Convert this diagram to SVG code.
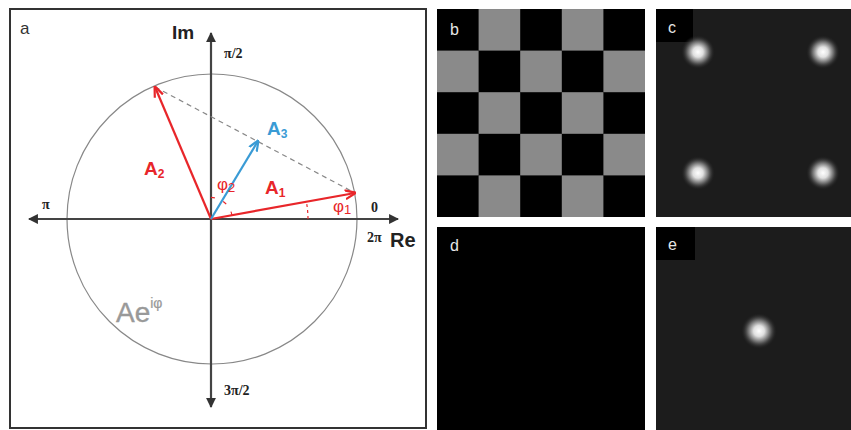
<svg xmlns="http://www.w3.org/2000/svg" width="851" height="430" viewBox="0 0 851 430">
<defs>
<style>
.ax{stroke:#444;stroke-width:2.2;fill:none}
.lbl{font-family:"Liberation Sans",Arial,sans-serif}
.ser{font-family:"Liberation Serif","Times New Roman",serif;font-weight:bold;font-size:14px;fill:#222}
.red{fill:#e8262a}
.plab{font-family:"Liberation Sans",Arial,sans-serif;font-size:16px;fill:#e6e6e6}
</style>
<marker id="ah" viewBox="0 0 10 10" refX="9" refY="5" markerWidth="4.5" markerHeight="4.5" orient="auto-start-reverse">
<path d="M0,0 L10,5 L0,10 z" fill="#333"/>
</marker>
<marker id="ar" viewBox="0 0 10 10" refX="9" refY="5" markerWidth="5" markerHeight="5" orient="auto">
<path d="M0,1 L10,5 L0,9" fill="none" stroke="#e8262a" stroke-width="2"/>
</marker>
<marker id="ab" viewBox="0 0 10 10" refX="9" refY="5" markerWidth="5" markerHeight="5" orient="auto">
<path d="M0,1 L10,5 L0,9" fill="none" stroke="#3a9bd5" stroke-width="2"/>
</marker>
<radialGradient id="spot">
<stop offset="0" stop-color="#ffffff"/>
<stop offset="0.3" stop-color="#e0e0e0"/>
<stop offset="0.65" stop-color="#606060"/>
<stop offset="1" stop-color="#1c1c1c" stop-opacity="0"/>
</radialGradient>
</defs>
<rect width="851" height="430" fill="#fff"/>

<g id="panel-a">
<rect x="10" y="9" width="416" height="419" fill="#fff" stroke="#333" stroke-width="2"/>
<text class="lbl" x="20" y="34" font-size="17" fill="#333">a</text>
<circle cx="212" cy="219" r="145" fill="none" stroke="#888" stroke-width="1.2"/>
<line class="ax" x1="29" y1="219" x2="398" y2="219" marker-start="url(#ah)" marker-end="url(#ah)"/>
<line class="ax" x1="211" y1="407" x2="211" y2="33" marker-start="url(#ah)" marker-end="url(#ah)"/>
<text class="lbl" x="172" y="39" font-size="19" font-weight="bold" fill="#222">Im</text>
<text class="ser" x="224" y="58">π/2</text>
<text class="ser" x="42" y="209">π</text>
<text class="ser" x="371" y="212">0</text>
<text class="ser" x="367" y="242">2π</text>
<text class="lbl" x="390" y="247" font-size="20" font-weight="bold" fill="#222">Re</text>
<text class="ser" x="224" y="395">3π/2</text>
<text class="lbl" x="116" y="322" font-size="28" fill="#999" stroke="#999" stroke-width="0.4">Ae<tspan dy="-14" font-size="14" stroke-width="0.2">iφ</tspan></text>
</g>

<g id="connectors">
<line x1="155" y1="87" x2="355" y2="193" stroke="#888" stroke-width="1.2" stroke-dasharray="5 4"/>
<path d="M308,219 A97,97 0 0 0 306.6,203" fill="none" stroke="#e8262a" stroke-width="1.2" stroke-dasharray="3 3"/>
<path d="M232,215.5 A22,22 0 0 0 202.4,198.8" fill="none" stroke="#e8262a" stroke-width="1.2" stroke-dasharray="4 9"/>
<line x1="211" y1="219" x2="355" y2="193" stroke="#e8262a" stroke-width="2.2" marker-end="url(#ar)"/>
<line x1="211" y1="219" x2="155" y2="87" stroke="#e8262a" stroke-width="2.2" marker-end="url(#ar)"/>
<line x1="211" y1="219" x2="258" y2="141" stroke="#3a9bd5" stroke-width="2.2" marker-end="url(#ab)"/>
</g>

<g id="labels-a">
<text class="lbl red" x="144" y="175" font-size="19" font-weight="bold">A<tspan font-size="12" dy="3">2</tspan></text>
<text class="lbl red" x="265" y="194" font-size="19" font-weight="bold">A<tspan font-size="12" dy="3">1</tspan></text>
<text class="lbl" x="267" y="135" font-size="19" font-weight="bold" fill="#3a9bd5">A<tspan font-size="12" dy="3">3</tspan></text>
<text class="lbl red" x="217" y="190" font-size="17">φ<tspan font-size="13" dy="2">2</tspan></text>
<text class="lbl red" x="333" y="212" font-size="17">φ<tspan font-size="13" dy="2">1</tspan></text>
</g>

<g id="panel-b">
<rect x="437" y="9" width="208" height="208" fill="#000"/>
<g fill="#8a8a8a">
<rect x="478.6" y="9" width="41.6" height="41.6"/><rect x="561.8" y="9" width="41.6" height="41.6"/>
<rect x="437" y="50.6" width="41.6" height="41.6"/><rect x="520.2" y="50.6" width="41.6" height="41.6"/><rect x="603.4" y="50.6" width="41.6" height="41.6"/>
<rect x="478.6" y="92.2" width="41.6" height="41.6"/><rect x="561.8" y="92.2" width="41.6" height="41.6"/>
<rect x="437" y="133.8" width="41.6" height="41.6"/><rect x="520.2" y="133.8" width="41.6" height="41.6"/><rect x="603.4" y="133.8" width="41.6" height="41.6"/>
<rect x="478.6" y="175.4" width="41.6" height="41.6"/><rect x="561.8" y="175.4" width="41.6" height="41.6"/>
</g>
<text class="plab" x="450" y="35">b</text>
</g>

<g id="panel-c">
<rect x="656" y="9" width="195" height="208" fill="#1c1c1c"/>
<rect x="656" y="9" width="37" height="33" fill="#000"/>
<text class="plab" x="668" y="33">c</text>
<circle cx="698" cy="52" r="17" fill="url(#spot)"/>
<circle cx="823" cy="52" r="17" fill="url(#spot)"/>
<circle cx="698" cy="173" r="17" fill="url(#spot)"/>
<circle cx="823" cy="173" r="17" fill="url(#spot)"/>
</g>

<g id="panel-d">
<rect x="437" y="227" width="208" height="203" fill="#000"/>
<text class="plab" x="450" y="251">d</text>
</g>

<g id="panel-e">
<rect x="656" y="227" width="195" height="203" fill="#1c1c1c"/>
<rect x="656" y="227" width="39" height="33" fill="#000"/>
<text class="plab" x="668" y="250">e</text>
<circle cx="759" cy="331" r="18" fill="url(#spot)"/>
</g>
</svg>
